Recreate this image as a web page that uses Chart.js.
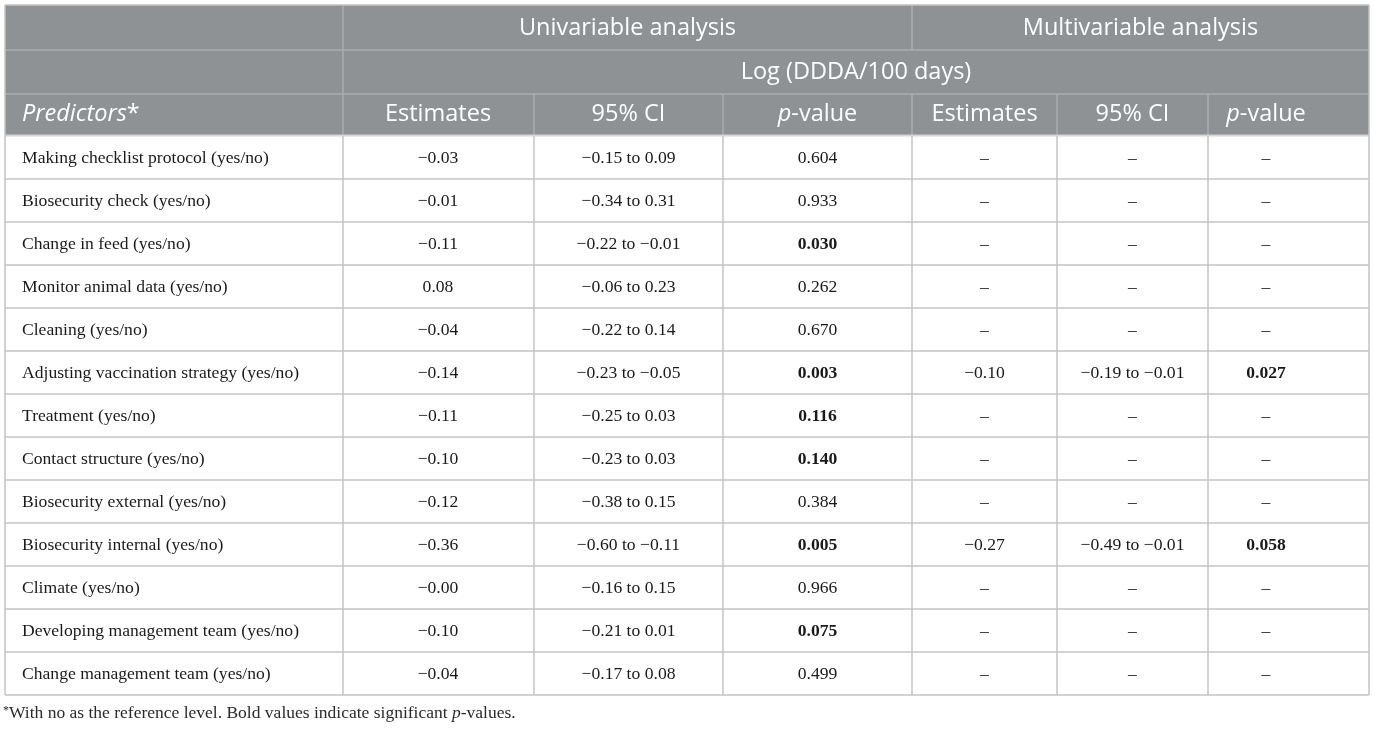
<!DOCTYPE html>
<html>
<head>
<meta charset="utf-8">
<script src="https://cdn.jsdelivr.net/npm/chart.js@4/dist/chart.umd.min.js"></script>
<style>
  html, body { margin: 0; padding: 0; background: #ffffff; }
  #wrap { position: relative; width: 1375px; height: 729px; }
</style>
</head>
<body>
<div id="wrap"><canvas id="c"></canvas></div>
<script>
// ---------- DATA ----------
const predictors = [
  "Making checklist protocol (yes/no)",
  "Biosecurity check (yes/no)",
  "Change in feed (yes/no)",
  "Monitor animal data (yes/no)",
  "Cleaning (yes/no)",
  "Adjusting vaccination strategy (yes/no)",
  "Treatment (yes/no)",
  "Contact structure (yes/no)",
  "Biosecurity external (yes/no)",
  "Biosecurity internal (yes/no)",
  "Climate (yes/no)",
  "Developing management team (yes/no)",
  "Change management team (yes/no)"
];
const uniEstimate = [-0.03, -0.01, -0.11, 0.08, -0.04, -0.14, -0.11, -0.10, -0.12, -0.36, -0.00, -0.10, -0.04];
const uniCiLow    = [-0.15, -0.34, -0.22, -0.06, -0.22, -0.23, -0.25, -0.23, -0.38, -0.60, -0.16, -0.21, -0.17];
const uniCiHigh   = [0.09, 0.31, -0.01, 0.23, 0.14, -0.05, 0.03, 0.03, 0.15, -0.11, 0.15, 0.01, 0.08];
const uniP        = [0.604, 0.933, 0.030, 0.262, 0.670, 0.003, 0.116, 0.140, 0.384, 0.005, 0.966, 0.075, 0.499];
const uniPBold    = [false, false, true, false, false, true, true, true, false, true, false, true, false];
const multiEstimate = [null, null, null, null, null, -0.10, null, null, null, -0.27, null, null, null];
const multiCiLow    = [null, null, null, null, null, -0.19, null, null, null, -0.49, null, null, null];
const multiCiHigh   = [null, null, null, null, null, -0.01, null, null, null, -0.01, null, null, null];
const multiP        = [null, null, null, null, null, 0.027, null, null, null, 0.058, null, null, null];
const multiPBold    = [false, false, false, false, false, true, false, false, false, true, false, false, false];

const groupHeaders = ["Univariable analysis", "Multivariable analysis"];
const outcomeHeader = "Log (DDDA/100 days)";
const columnHeaders = ["Predictors*", "Estimates", "95% CI", "p-value", "Estimates", "95% CI", "p-value"];
const footnote = "With no as the reference level. Bold values indicate significant ";

// ---------- LAYOUT (table units = px inside chart area) ----------
const colEdges = [0, 338, 529, 718, 907, 1052, 1203, 1364];
const colCenters = [null, 433, 623.5, 812.5, 979.5, 1127.5, 1261];
const headerEdges = [0, 45, 89, 130];
const bodyTop = 131;
const rowH = 43;
const tableBottom = bodyTop + rowH * predictors.length;

const HEADER_BG = '#8e9295';
const HEADER_LINE = '#a9acae';
const GRID = '#c4c4c4';
const TEXT = '#1a1a1a';
const SANS = "'Open Sans', 'DejaVu Sans', sans-serif";
const SERIF = "'Liberation Serif', 'DejaVu Serif', serif";

function fmt(v) {
  if (v === null || v === undefined) return '–';
  const neg = v < 0 || Object.is(v, -0);
  return (neg ? '−' : '') + Math.abs(v).toFixed(2);
}
function fmtP(v) { return v === null ? '–' : v.toFixed(3); }
function fmtCI(lo, hi) { return lo === null ? '–' : fmt(lo) + ' to ' + fmt(hi); }

// points placed at each data cell center (drawn invisibly, text drawn by plugin)
const cellPoints = [];
predictors.forEach((p, i) => {
  for (let c = 1; c < 7; c++) cellPoints.push({ x: colCenters[c], y: bodyTop + rowH * (i + 0.5), row: i, col: c });
});

function drawRich(ctx, parts, x, y, align) {
  let total = 0;
  parts.forEach(p => { ctx.font = p.font; total += ctx.measureText(p.t).width; });
  let cx = align === 'center' ? x - total / 2 : x;
  ctx.textAlign = 'left';
  parts.forEach(p => {
    ctx.font = p.font;
    ctx.fillText(p.t, cx, y + (p.dy || 0));
    cx += ctx.measureText(p.t).width;
  });
}

const tablePlugin = {
  id: 'tablePlugin',
  afterDraw(chart) {
    const ctx = chart.ctx;
    const xs = chart.scales.x, ys = chart.scales.y;
    const X = v => xs.getPixelForValue(v);
    const Y = v => ys.getPixelForValue(v);
    ctx.save();

    // header background
    ctx.fillStyle = HEADER_BG;
    ctx.fillRect(X(0), Y(0), X(colEdges[7]) - X(0), Y(headerEdges[3]) - Y(0));

    // header lines
    ctx.strokeStyle = HEADER_LINE;
    ctx.lineWidth = 1.5;
    const hline = (y, x0, x1) => { ctx.beginPath(); ctx.moveTo(X(x0), Y(y)); ctx.lineTo(X(x1), Y(y)); ctx.stroke(); };
    const vline = (x, y0, y1) => { ctx.beginPath(); ctx.moveTo(X(x), Y(y0)); ctx.lineTo(X(x), Y(y1)); ctx.stroke(); };
    hline(headerEdges[1], 0, colEdges[7]);
    hline(headerEdges[2], 0, colEdges[7]);
    vline(colEdges[1], 0, headerEdges[3]);
    vline(colEdges[4], 0, headerEdges[1]);
    for (let c = 2; c < 7; c++) vline(colEdges[c], headerEdges[2], headerEdges[3]);

    // separator below header
    ctx.strokeStyle = '#d3d5d6';
    ctx.lineWidth = 2;
    hline(headerEdges[3] + 0.5, 0, colEdges[7]);

    // body grid
    ctx.strokeStyle = GRID;
    ctx.lineWidth = 1.5;
    for (let i = 1; i <= predictors.length; i++) hline(bodyTop + rowH * i, 0, colEdges[7]);
    for (let c = 1; c < 7; c++) vline(colEdges[c], bodyTop, tableBottom);
    // outer border
    ctx.strokeStyle = '#c2c2c2';
    vline(0, 0, tableBottom);
    vline(colEdges[7], 0, tableBottom);
    hline(0, 0, colEdges[7]);

    // header text
    ctx.fillStyle = '#ffffff';
    ctx.textBaseline = 'middle';
    const hf = "400 23.5px " + SANS;
    const hfi = "italic 400 23.5px " + SANS;
    ctx.font = hf; ctx.textAlign = 'center';
    ctx.fillText(groupHeaders[0], X((colEdges[1] + colEdges[4]) / 2), Y((headerEdges[0] + headerEdges[1]) / 2) + 1);
    ctx.fillText(groupHeaders[1], X((colEdges[4] + colEdges[7]) / 2), Y((headerEdges[0] + headerEdges[1]) / 2) + 1);
    ctx.fillText(outcomeHeader, X((colEdges[1] + colEdges[7]) / 2), Y((headerEdges[1] + headerEdges[2]) / 2));
    const h3y = Y((headerEdges[2] + headerEdges[3]) / 2);
    drawRich(ctx, [{ t: 'Predictors', font: hfi }, { t: '*', font: hf }], X(17), h3y, 'left');
    for (let c = 1; c < 7; c++) {
      const label = columnHeaders[c];
      if (label.startsWith('p-')) {
        drawRich(ctx, [{ t: 'p', font: hfi }, { t: label.slice(1), font: hf }], X(colCenters[c]), h3y, 'center');
      } else {
        ctx.font = hf; ctx.textAlign = 'center';
        ctx.fillText(label, X(colCenters[c]), h3y);
      }
    }

    // body text
    ctx.fillStyle = TEXT;
    const bf = "17.6px " + SERIF;
    const bfb = "bold 17.6px " + SERIF;
    predictors.forEach((p, i) => {
      ctx.font = bf; ctx.textAlign = 'left';
      ctx.fillText(p, X(17), Y(bodyTop + rowH * (i + 0.5)) + 1);
    });
    const meta = chart.getDatasetMeta(0);
    meta.data.forEach((el, k) => {
      const pt = cellPoints[k];
      const i = pt.row;
      let txt, bold = false;
      switch (pt.col) {
        case 1: txt = fmt(uniEstimate[i]); break;
        case 2: txt = fmtCI(uniCiLow[i], uniCiHigh[i]); break;
        case 3: txt = fmtP(uniP[i]); bold = uniPBold[i]; break;
        case 4: txt = fmt(multiEstimate[i]); break;
        case 5: txt = fmtCI(multiCiLow[i], multiCiHigh[i]); break;
        case 6: txt = fmtP(multiP[i]); bold = multiPBold[i]; break;
      }
      ctx.font = bold ? bfb : bf;
      ctx.textAlign = 'center';
      ctx.fillText(txt, el.x, el.y + 1);
    });

    // footnote
    ctx.fillStyle = '#2a2a2a';
    ctx.textBaseline = 'alphabetic';
    const ff = "17.5px " + SERIF, ffi = "italic 17.5px " + SERIF, fs = "12px " + SERIF;
    drawRich(ctx, [
      { t: '*', font: fs, dy: -4 },
      { t: footnote, font: ff },
      { t: 'p', font: ffi },
      { t: '-values.', font: ff }
    ], X(-2), Y(tableBottom) + 23, 'left');

    ctx.restore();
  }
};

new Chart(document.getElementById('c'), {
  type: 'scatter',
  data: {
    datasets: [{
      data: cellPoints,
      pointRadius: 0,
      pointHoverRadius: 0,
      showLine: false
    }]
  },
  options: {
    responsive: true,
    maintainAspectRatio: false,
    animation: false,
    events: [],
    layout: { padding: { left: 5, top: 5, right: 6, bottom: 729 - 5 - tableBottom } },
    plugins: { legend: { display: false }, tooltip: { enabled: false }, title: { display: false } },
    scales: {
      x: { type: 'linear', display: false, min: 0, max: colEdges[7] },
      y: { type: 'linear', display: false, min: 0, max: tableBottom, reverse: true }
    }
  },
  plugins: [tablePlugin]
});
</script>
</body>
</html>
